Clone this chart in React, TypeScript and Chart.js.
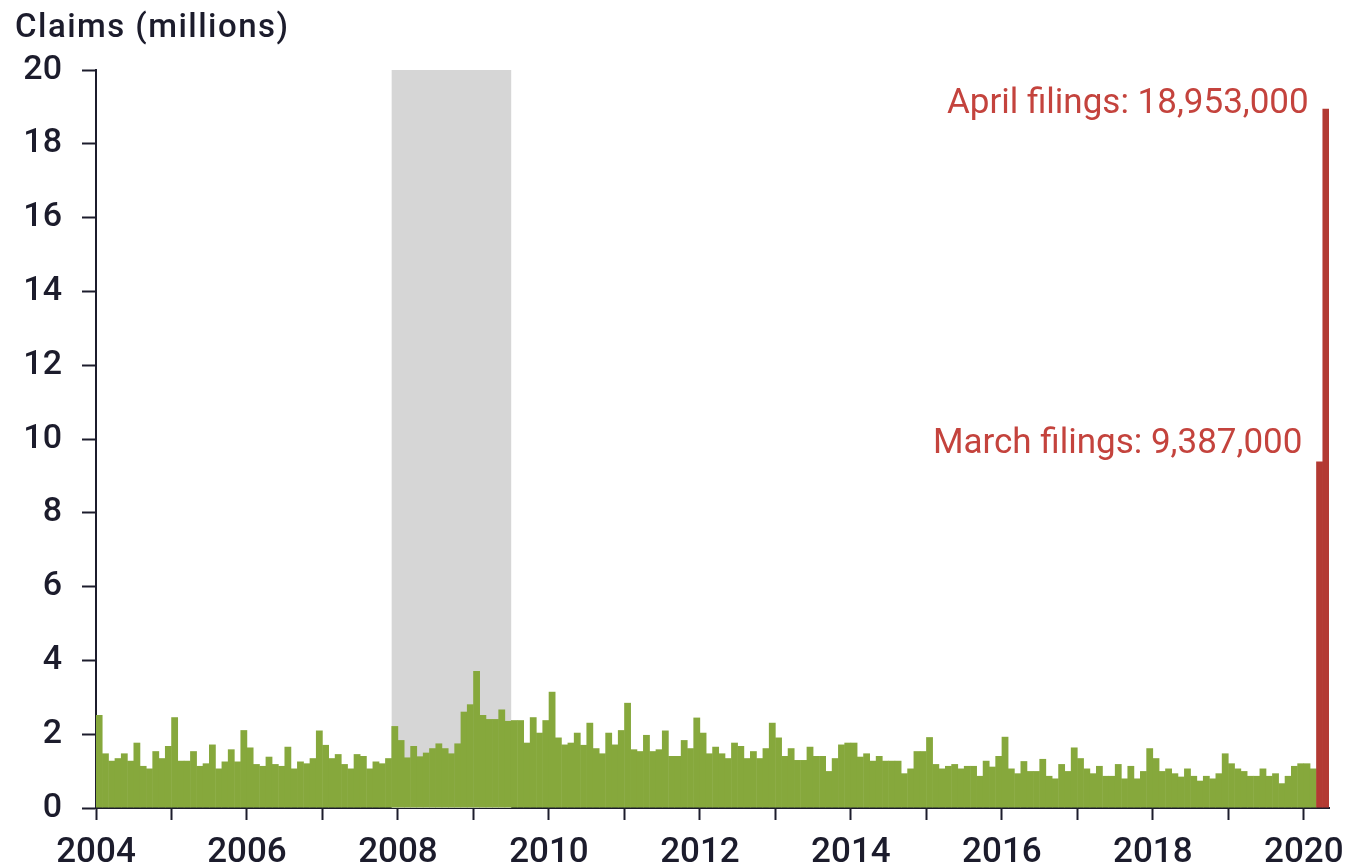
import React, { useEffect, useRef } from 'react';
import { Chart, registerables } from 'chart.js';

Chart.register(...registerables);

// ---- Data (monthly initial unemployment claims, millions) ----
const START_YEAR = 2004;
const y2004 = [2.52, 1.48, 1.28, 1.35, 1.48, 1.28, 1.77, 1.14, 1.07, 1.54, 1.35, 1.68];
const y2005 = [2.46, 1.28, 1.28, 1.54, 1.14, 1.21, 1.72, 1.07, 1.26, 1.59, 1.26, 2.11];
const y2006 = [1.64, 1.19, 1.14, 1.39, 1.19, 1.14, 1.66, 1.07, 1.26, 1.21, 1.35, 2.1];
const y2007 = [1.71, 1.35, 1.46, 1.19, 1.07, 1.46, 1.41, 1.07, 1.26, 1.21, 1.35, 2.22];
const y2008 = [1.84, 1.37, 1.68, 1.4, 1.5, 1.62, 1.75, 1.62, 1.48, 1.75, 2.61, 2.81];
const y2009 = [3.71, 2.52, 2.41, 2.41, 2.67, 2.36, 2.38, 2.38, 1.77, 2.46, 2.04, 2.38];
const y2010 = [3.15, 1.91, 1.72, 1.77, 2.04, 1.71, 2.31, 1.62, 1.48, 2.04, 1.72, 2.11];
const y2011 = [2.85, 1.59, 1.54, 1.98, 1.54, 1.59, 2.1, 1.41, 1.41, 1.84, 1.62, 2.45];
const y2012 = [2.04, 1.48, 1.66, 1.48, 1.35, 1.77, 1.68, 1.35, 1.54, 1.35, 1.62, 2.31];
const y2013 = [1.91, 1.41, 1.62, 1.3, 1.3, 1.66, 1.41, 1.41, 1.0, 1.35, 1.72, 1.77];
const y2014 = [1.77, 1.39, 1.48, 1.28, 1.41, 1.28, 1.28, 1.28, 0.94, 1.07, 1.54, 1.54];
const y2015 = [1.92, 1.19, 1.07, 1.14, 1.19, 1.07, 1.14, 1.14, 0.87, 1.28, 1.12, 1.41];
const y2016 = [1.93, 1.07, 0.94, 1.27, 1.0, 1.0, 1.33, 0.87, 0.8, 1.19, 1.0, 1.64];
const y2017 = [1.35, 1.07, 0.94, 1.14, 0.87, 0.87, 1.19, 0.8, 1.14, 0.8, 1.0, 1.62];
const y2018 = [1.35, 1.0, 1.07, 0.94, 0.85, 1.07, 0.87, 0.74, 0.87, 0.8, 0.94, 1.48];
const y2019 = [1.21, 1.07, 1.0, 0.87, 0.87, 1.07, 0.87, 0.94, 0.67, 0.87, 1.14, 1.21];
const y2020JanFeb = [1.21, 1.07];
const march2020 = 9.387;
const april2020 = 18.953;

const tickYears = [2004, 2005, 2006, 2007, 2008, 2009, 2010, 2011, 2012, 2013, 2014, 2015, 2016, 2017, 2018, 2019, 2020];
const labeledYears = [2004, 2006, 2008, 2010, 2012, 2014, 2016, 2018, 2020];
const yTickValues = [0, 2, 4, 6, 8, 10, 12, 14, 16, 18, 20];

const recessionStart = { year: 2007, month: 12 };
const recessionEnd = { year: 2009, month: 6 };

const yAxisTitle = 'Claims (millions)';

// ---- Styling ----
const GREEN = '#86a83c';
const RED = '#b33a33';
const LABEL_RED = '#c4433d';
const INK = '#1c1c2c';
const BAND = '#d6d6d6';
const FONT = 'Roboto';

const greenValues = [
  ...y2004, ...y2005, ...y2006, ...y2007, ...y2008, ...y2009, ...y2010, ...y2011,
  ...y2012, ...y2013, ...y2014, ...y2015, ...y2016, ...y2017, ...y2018, ...y2019, ...y2020JanFeb,
];
const redValues = [march2020, april2020];
const allValues = [...greenValues, ...redValues];
const totalMonths = allValues.length;
const monthIndex = (d: { year: number; month: number }) => (d.year - START_YEAR) * 12 + (d.month - 1);

const fmt = (v: number) => Math.round(v * 1e6).toLocaleString('en-US');

export default function App() {
  const ref = useRef<HTMLCanvasElement | null>(null);

  useEffect(() => {
    if (!ref.current) return;

    const bandPlugin = {
      id: 'recessionBand',
      beforeDatasetsDraw(chart: any) {
        const { ctx, chartArea, scales } = chart;
        const x0 = scales.x.getPixelForValue(monthIndex(recessionStart));
        const x1 = scales.x.getPixelForValue(monthIndex(recessionEnd) + 1);
        ctx.save();
        ctx.fillStyle = BAND;
        ctx.fillRect(x0, chartArea.top, x1 - x0, chartArea.bottom - chartArea.top);
        ctx.restore();
      },
    };

    const textPlugin = {
      id: 'texts',
      afterDraw(chart: any) {
        const { ctx, scales } = chart;
        ctx.save();
        ctx.font = `500 33px ${FONT}`;
        ctx.fillStyle = INK;
        ctx.textAlign = 'left';
        ctx.textBaseline = 'alphabetic';
        const w = ctx.measureText(yAxisTitle).width;
        const target = 273;
        const sp = Math.max(0, (target - w) / (yAxisTitle.length - 1));
        (ctx as any).letterSpacing = `${sp}px`;
        ctx.fillText(yAxisTitle, 15, 37);
        (ctx as any).letterSpacing = '0px';

        ctx.font = `35px ${FONT}`;
        ctx.fillStyle = LABEL_RED;
        ctx.textAlign = 'right';
        ctx.textBaseline = 'middle';
        const marchIdx = greenValues.length;
        const aprilIdx = greenValues.length + 1;
        ctx.fillText(
          `April filings: ${fmt(april2020)}`,
          scales.x.getPixelForValue(aprilIdx) - 14,
          scales.y.getPixelForValue(april2020) - 4,
        );
        ctx.fillText(
          `March filings: ${fmt(march2020)}`,
          scales.x.getPixelForValue(marchIdx) - 14,
          scales.y.getPixelForValue(march2020) - 17,
        );
        ctx.restore();
      },
    };

    const chart = new Chart(ref.current, {
      type: 'bar',
      data: {
        datasets: [
          {
            data: allValues.map((v, i) => ({ x: i + 0.5, y: v })),
            backgroundColor: allValues.map((_, i) => (i < greenValues.length ? GREEN : RED)),
            borderWidth: 0,
            barPercentage: 1.08,
            categoryPercentage: 1,
          },
        ],
      },
      options: {
        animation: false,
        responsive: false,
        devicePixelRatio: 1,
        layout: { padding: { top: 70, right: 22, left: 0, bottom: 0 } },
        plugins: { legend: { display: false }, tooltip: { enabled: false }, title: { display: false } },
        scales: {
          x: {
            type: 'linear',
            min: 0,
            max: totalMonths,
            offset: false,
            afterBuildTicks: (scale: any) => {
              scale.ticks = tickYears.map((y) => ({ value: (y - START_YEAR) * 12 }));
            },
            afterFit: (scale: any) => {
              scale.height = 60;
              scale.paddingRight = 0;
              scale.paddingLeft = 0;
            },
            ticks: {
              autoSkip: false,
              maxRotation: 0,
              padding: 12,
              color: INK,
              font: { family: FONT, size: 35, weight: 500 },
              callback: (v: any) => {
                const yr = START_YEAR + Number(v) / 12;
                return labeledYears.includes(yr) ? String(yr) : '';
              },
            },
            grid: { offset: false, drawOnChartArea: false, drawTicks: true, tickLength: 12, tickWidth: 2, tickColor: INK },
            border: { display: true, color: INK, width: 2 },
          },
          y: {
            min: 0,
            max: 20,
            afterBuildTicks: (scale: any) => {
              scale.ticks = yTickValues.map((v) => ({ value: v }));
            },
            afterFit: (scale: any) => {
              scale.width = 96;
            },
            ticks: {
              padding: 20,
              color: INK,
              font: { family: FONT, size: 34, weight: 500 },
            },
            grid: { drawOnChartArea: false, drawTicks: true, tickLength: 14, tickWidth: 2, tickColor: INK },
            border: { display: true, color: INK, width: 2 },
          },
        },
      },
      plugins: [bandPlugin, textPlugin],
    } as any);

    return () => chart.destroy();
  }, []);

  return (
    <div style={{ position: 'absolute', left: 0, top: 0, width: 1351, height: 868, background: '#fff' }}>
      <canvas ref={ref} width={1351} height={868} style={{ display: 'block', width: 1351, height: 868 }} />
    </div>
  );
}
